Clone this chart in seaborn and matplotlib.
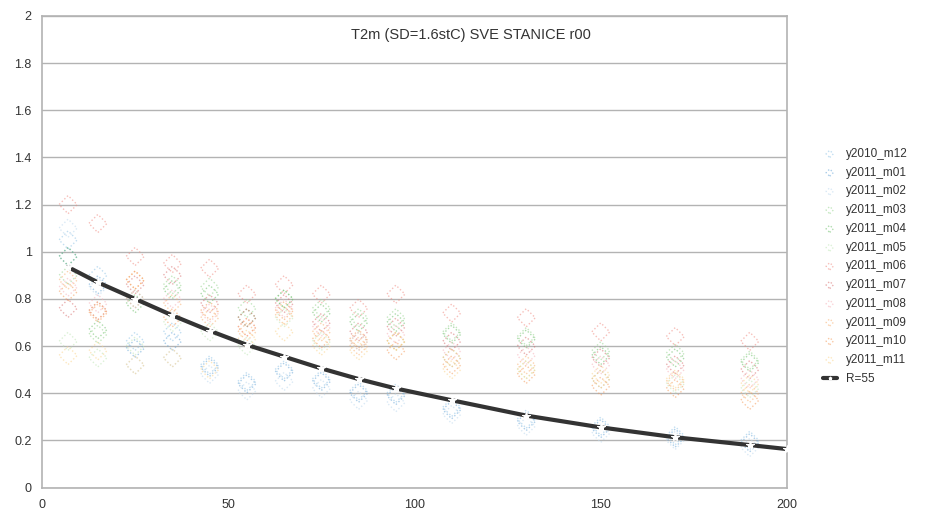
import matplotlib
matplotlib.use("Agg")
import matplotlib.pyplot as plt
import seaborn as sns
import pandas as pd

# ---- data ----
dist = [7, 15, 25, 35, 45, 55, 65, 75, 85, 95, 110, 130, 150, 170, 190]
series_names = ["y2010_m12", "y2011_m01", "y2011_m02", "y2011_m03", "y2011_m04", "y2011_m05",
                "y2011_m06", "y2011_m07", "y2011_m08", "y2011_m09", "y2011_m10", "y2011_m11"]
y2010_m12 = [1.05, 0.90, 0.62, 0.66, 0.52, 0.45, 0.50, 0.46, 0.41, 0.40, 0.34, 0.29, 0.26, 0.22, 0.20]
y2011_m01 = [0.98, 0.86, 0.59, 0.62, 0.51, 0.44, 0.49, 0.45, 0.40, 0.39, 0.33, 0.28, 0.25, 0.21, 0.19]
y2011_m02 = [1.10, 0.85, 0.52, 0.55, 0.48, 0.41, 0.45, 0.42, 0.37, 0.36, 0.31, 0.26, 0.23, 0.20, 0.17]
y2011_m03 = [0.90, 0.65, 0.80, 0.86, 0.85, 0.76, 0.80, 0.76, 0.72, 0.72, 0.66, 0.64, 0.58, 0.57, 0.54]
y2011_m04 = [0.98, 0.67, 0.78, 0.84, 0.82, 0.72, 0.80, 0.74, 0.70, 0.70, 0.65, 0.63, 0.56, 0.55, 0.53]
y2011_m05 = [0.62, 0.55, 0.60, 0.70, 0.66, 0.60, 0.72, 0.62, 0.62, 0.62, 0.55, 0.50, 0.46, 0.44, 0.42]
y2011_m06 = [1.20, 1.12, 0.98, 0.95, 0.93, 0.82, 0.86, 0.82, 0.76, 0.82, 0.74, 0.72, 0.66, 0.64, 0.62]
y2011_m07 = [0.76, 0.75, 0.86, 0.90, 0.78, 0.72, 0.78, 0.70, 0.66, 0.68, 0.62, 0.60, 0.55, 0.52, 0.50]
y2011_m08 = [0.85, 0.78, 0.80, 0.80, 0.74, 0.68, 0.76, 0.68, 0.62, 0.65, 0.58, 0.56, 0.52, 0.50, 0.46]
y2011_m09 = [0.88, 0.75, 0.88, 0.78, 0.72, 0.66, 0.73, 0.66, 0.60, 0.62, 0.55, 0.52, 0.46, 0.45, 0.40]
y2011_m10 = [0.83, 0.74, 0.88, 0.72, 0.75, 0.68, 0.75, 0.63, 0.63, 0.58, 0.52, 0.48, 0.43, 0.42, 0.37]
y2011_m11 = [0.56, 0.58, 0.52, 0.55, 0.50, 0.63, 0.66, 0.60, 0.58, 0.62, 0.50, 0.50, 0.48, 0.46, 0.44]
series_values = [y2010_m12, y2011_m01, y2011_m02, y2011_m03, y2011_m04, y2011_m05,
                 y2011_m06, y2011_m07, y2011_m08, y2011_m09, y2011_m10, y2011_m11]

fit_x = [7, 15, 25, 35, 45, 55, 65, 75, 85, 95, 110, 130, 150, 170, 190, 200]
fit_y = [0.935, 0.87, 0.80, 0.73, 0.665, 0.605, 0.555, 0.505, 0.46, 0.42, 0.37, 0.305, 0.255, 0.213, 0.18, 0.163]
fit_label = "R=55"

title = "T2m (SD=1.6stC) SVE STANICE r00"
x_ticks = [0, 50, 100, 150, 200]
y_ticks = [0, 0.2, 0.4, 0.6, 0.8, 1.0, 1.2, 1.4, 1.6, 1.8, 2.0]

colors = ["#8fc3e6", "#6aa7d8", "#bcd8ee", "#96d48e", "#6dbf6a", "#bfe6b5",
          "#f08a80", "#d87070", "#f7b0b8", "#f9b070", "#f59a58", "#fbd38a"]

# ---- plot ----
sns.set_style("white")
plt.rcParams['font.family'] = ['Liberation Sans', 'DejaVu Sans']
fig = plt.figure(figsize=(9.42, 5.12), dpi=100)
ax = fig.add_axes([42/942, 1-487.5/512, (787-42)/942, (487.5-16)/512])

rows = []
for name, vals in zip(series_names, series_values):
    for xv, yv in zip(dist, vals):
        rows.append({"dist": xv, "val": yv, "series": name})
df = pd.DataFrame(rows)

for name, col in zip(series_names, colors):
    sub = df[df["series"] == name]
    sns.scatterplot(data=sub, x="dist", y="val", ax=ax, label=name,
                    marker="D", s=85, facecolors="none",
                    edgecolor=col, linewidth=1.0, linestyle=":", alpha=0.55, zorder=3)

sns.lineplot(x=fit_x, y=fit_y, ax=ax, color="#333333", linewidth=3, label=fit_label,
             marker="*", markersize=6, markerfacecolor="white", markeredgecolor="white",
             zorder=4, sort=False)

ax.set_xlim(0, 200)
ax.set_ylim(0, 2)
ax.set_xticks(x_ticks)
ax.set_yticks(y_ticks)
ax.set_yticklabels([("%g" % v) for v in y_ticks])
ax.set_xlabel("")
ax.set_ylabel("")
ax.yaxis.grid(True, color="#b3b3b3", linewidth=1)
ax.xaxis.grid(False)
for side in ["left", "bottom", "top", "right"]:
    ax.spines[side].set_color("#b3b3b3")
    ax.spines[side].set_linewidth(1.2)
ax.tick_params(axis="both", which="both", direction="out", length=4, width=1,
               color="#b3b3b3", labelsize=9, labelcolor="#333333")
ax.tick_params(axis="x", pad=4)

fig.text(0.5, 1-35/512, title, ha="center", va="center", fontsize=10.5, color="#333333")

leg = ax.legend(loc="center left", bbox_to_anchor=(812/745 - 42/745, 0.469), frameon=False,
                fontsize=8.5, handlelength=1.2, handletextpad=0.8, labelspacing=0.57,
                markerscale=0.4)
for t in leg.get_texts():
    t.set_color("#333333")

fig.savefig("out.png", dpi=100)
